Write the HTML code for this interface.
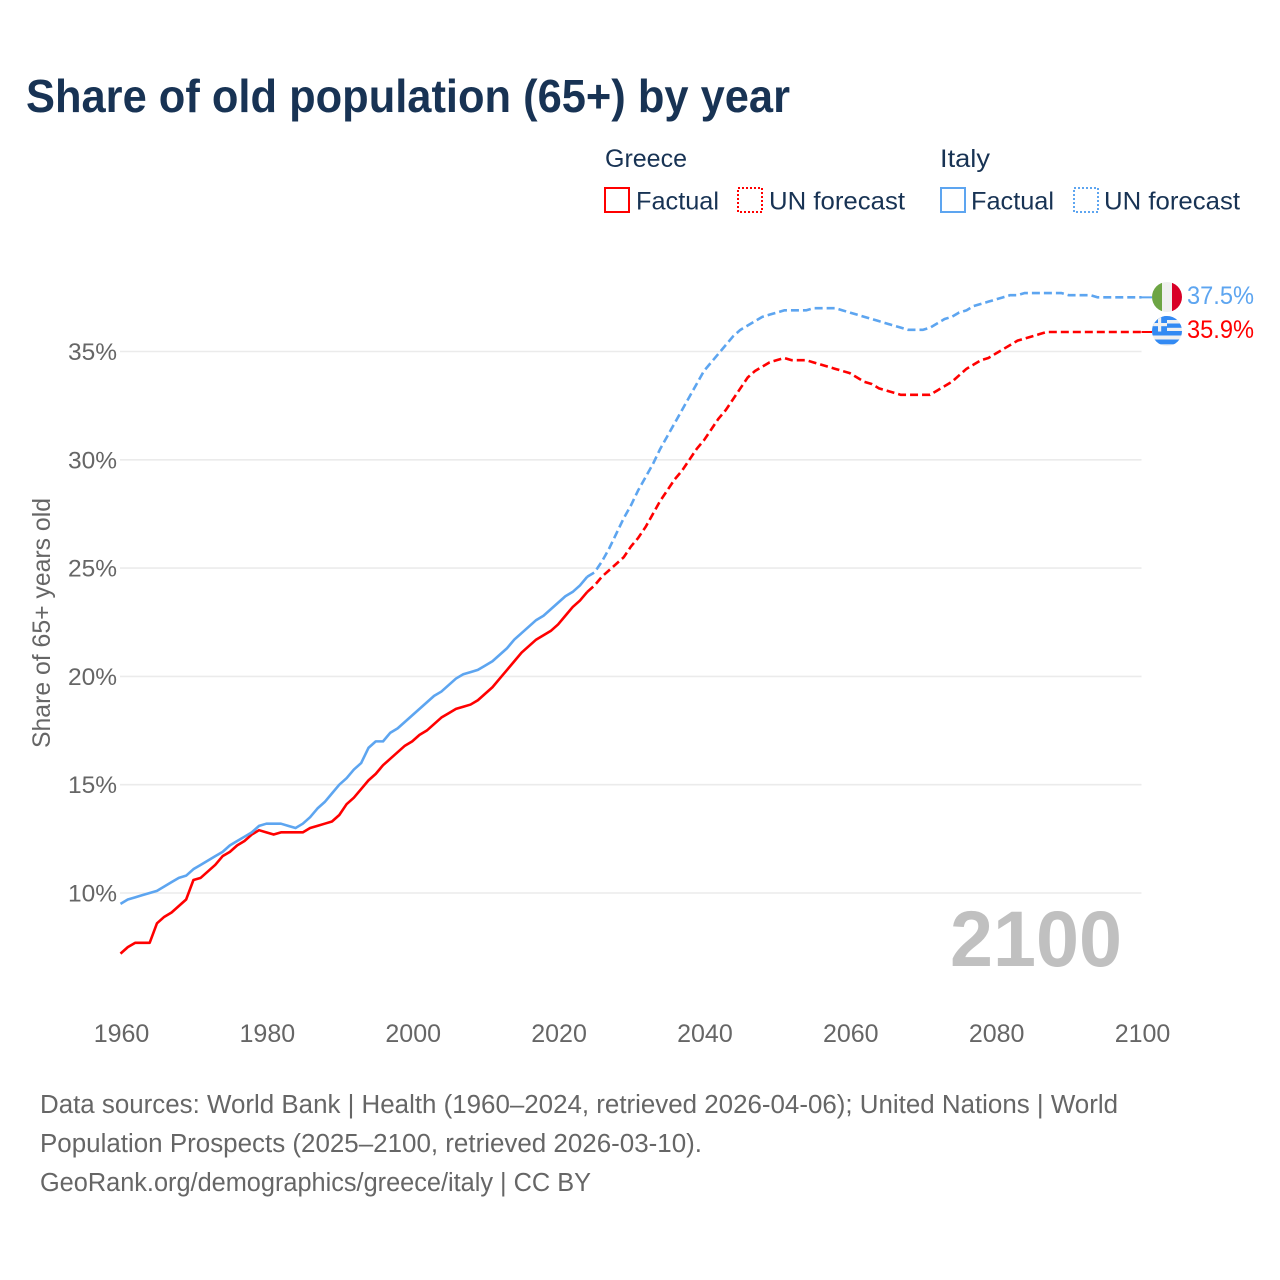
<!DOCTYPE html>
<html lang="en">
<head>
<meta charset="utf-8">
<title>Share of old population (65+) by year</title>
<style>
html,body{margin:0;padding:0;background:#fff;}
svg{display:block;font-family:"Liberation Sans",sans-serif;}
</style>
</head>
<body>
<svg id="chart" width="1280" height="1280" viewBox="0 0 1280 1280" xmlns="http://www.w3.org/2000/svg">
  <rect width="1280" height="1280" fill="#fff"/>
  <text x="26" y="112" font-size="46" font-weight="700" fill="#183354" textLength="764" lengthAdjust="spacingAndGlyphs">Share of old population (65+) by year</text>

  <g font-size="25" fill="#183354">
    <text x="605" y="167" textLength="82" lengthAdjust="spacingAndGlyphs">Greece</text>
    <text x="940" y="167" textLength="50" lengthAdjust="spacingAndGlyphs">Italy</text>
    <rect x="605" y="188" width="24" height="24" fill="none" stroke="#ff0000" stroke-width="2"/>
    <text x="636" y="209.5" textLength="83" lengthAdjust="spacingAndGlyphs">Factual</text>
    <rect x="738" y="188" width="24" height="24" fill="none" stroke="#ff0000" stroke-width="2" stroke-dasharray="2,2"/>
    <text x="769" y="209.5" textLength="136" lengthAdjust="spacingAndGlyphs">UN forecast</text>
    <rect x="941" y="188" width="24" height="24" fill="none" stroke="#5da5f0" stroke-width="2"/>
    <text x="971" y="209.5" textLength="83" lengthAdjust="spacingAndGlyphs">Factual</text>
    <rect x="1074" y="188" width="24" height="24" fill="none" stroke="#5da5f0" stroke-width="2" stroke-dasharray="2,2"/>
    <text x="1104" y="209.5" textLength="136" lengthAdjust="spacingAndGlyphs">UN forecast</text>
  </g>

  <g id="grid"></g>
  <g id="yticks"></g>
  <g id="xticks"></g>
  <text transform="translate(50,623) rotate(-90)" text-anchor="middle" font-size="25" fill="#666" textLength="250" lengthAdjust="spacingAndGlyphs">Share of 65+ years old</text>

  <text x="950" y="966" font-size="79" font-weight="700" fill="#c0c0c0" textLength="172" lengthAdjust="spacingAndGlyphs">2100</text>

  <g id="series"></g>

  <defs>
    <clipPath id="clip-it"><circle cx="1167" cy="297" r="15"/></clipPath>
    <clipPath id="clip-gr"><circle cx="1167" cy="331" r="15"/></clipPath>
  </defs>
  <g clip-path="url(#clip-it)">
    <rect x="1152" y="282" width="10" height="30" fill="#6da544"/>
    <rect x="1162" y="282" width="10" height="30" fill="#f0f0f0"/>
    <rect x="1172" y="282" width="10" height="30" fill="#d80027"/>
  </g>
  <g clip-path="url(#clip-gr)">
    <rect x="1152" y="316" width="30" height="30" fill="#f0f0f0"/>
    <rect x="1152" y="316" width="30" height="4" fill="#338af3"/>
    <rect x="1152" y="323.5" width="30" height="4.3" fill="#338af3"/>
    <rect x="1152" y="331" width="30" height="4.5" fill="#338af3"/>
    <rect x="1152" y="339.5" width="30" height="4.8" fill="#338af3"/>
    <rect x="1152" y="316" width="15" height="15.5" fill="#338af3"/>
    <rect x="1152" y="323" width="15" height="3.2" fill="#f0f0f0"/>
    <rect x="1158" y="316" width="3.2" height="15.5" fill="#f0f0f0"/>
  </g>
  <text id="label-it" x="1187" y="304" font-size="25" fill="#5da5f0" textLength="67" lengthAdjust="spacingAndGlyphs"></text>
  <text id="label-gr" x="1187" y="338" font-size="25" fill="#ff0000" textLength="67" lengthAdjust="spacingAndGlyphs"></text>

  <g font-size="25.5" fill="#666">
    <text x="40" y="1113" textLength="1078" lengthAdjust="spacingAndGlyphs">Data sources: World Bank | Health (1960–2024, retrieved 2026-04-06); United Nations | World</text>
    <text x="40" y="1152" textLength="662" lengthAdjust="spacingAndGlyphs">Population Prospects (2025–2100, retrieved 2026-03-10).</text>
    <text x="40" y="1191" textLength="551" lengthAdjust="spacingAndGlyphs">GeoRank.org/demographics/greece/italy | CC BY</text>
  </g>
</svg>
<script>
var xTickYears = [1960, 1980, 2000, 2020, 2040, 2060, 2080, 2100];
var yTickValues = [10, 15, 20, 25, 30, 35];
var factualStartYear = 1960;
var forecastStartYear = 2024;

var greeceFactual = [7.2,7.5,7.7,7.7,7.7,8.6,8.9,9.1,9.4,9.7,10.6,10.7,11.0,11.3,11.7,11.9,12.2,12.4,12.7,12.9,12.8,12.7,12.8,12.8,12.8,12.8,13.0,13.1,13.2,13.3,13.6,14.1,14.4,14.8,15.2,15.5,15.9,16.2,16.5,16.8,17.0,17.3,17.5,17.8,18.1,18.3,18.5,18.6,18.7,18.9,19.2,19.5,19.9,20.3,20.7,21.1,21.4,21.7,21.9,22.1,22.4,22.8,23.2,23.5,23.9];
var greeceForecast = [23.9,24.2,24.6,24.9,25.2,25.5,26.0,26.4,26.9,27.5,28.1,28.6,29.1,29.5,30.0,30.5,30.9,31.4,31.9,32.3,32.8,33.3,33.8,34.1,34.3,34.5,34.6,34.7,34.6,34.6,34.6,34.5,34.4,34.3,34.2,34.1,34.0,33.8,33.6,33.5,33.3,33.2,33.1,33.0,33.0,33.0,33.0,33.0,33.2,33.4,33.6,33.9,34.2,34.4,34.6,34.7,34.9,35.1,35.3,35.5,35.6,35.7,35.8,35.9,35.9,35.9,35.9,35.9,35.9,35.9,35.9,35.9,35.9,35.9,35.9,35.9,35.9];
var italyFactual = [9.5,9.7,9.8,9.9,10.0,10.1,10.3,10.5,10.7,10.8,11.1,11.3,11.5,11.7,11.9,12.2,12.4,12.6,12.8,13.1,13.2,13.2,13.2,13.1,13.0,13.2,13.5,13.9,14.2,14.6,15.0,15.3,15.7,16.0,16.7,17.0,17.0,17.4,17.6,17.9,18.2,18.5,18.8,19.1,19.3,19.6,19.9,20.1,20.2,20.3,20.5,20.7,21.0,21.3,21.7,22.0,22.3,22.6,22.8,23.1,23.4,23.7,23.9,24.2,24.6];
var italyForecast = [24.6,24.8,25.3,25.9,26.6,27.3,27.9,28.6,29.2,29.8,30.5,31.1,31.7,32.3,32.9,33.5,34.1,34.5,34.9,35.3,35.7,36.0,36.2,36.4,36.6,36.7,36.8,36.9,36.9,36.9,36.9,37.0,37.0,37.0,37.0,36.9,36.8,36.7,36.6,36.5,36.4,36.3,36.2,36.1,36.0,36.0,36.0,36.1,36.3,36.5,36.6,36.8,36.9,37.1,37.2,37.3,37.4,37.5,37.6,37.6,37.7,37.7,37.7,37.7,37.7,37.7,37.6,37.6,37.6,37.6,37.5,37.5,37.5,37.5,37.5,37.5,37.5];

var SVG_NS = 'http://www.w3.org/2000/svg';
function xScale(year) { return 120.5 + (year - 1960) * (1141.5 - 120.5) / 140; }
function yScale(value) { return 893 - (value - 10) * 21.66; }

function pathFrom(values, startYear) {
  var d = '';
  for (var i = 0; i < values.length; i++) {
    d += (i ? 'L' : 'M') + xScale(startYear + i).toFixed(2) + ' ' + yScale(values[i]).toFixed(2);
  }
  return d;
}

var gridGroup = document.getElementById('grid');
var yTickGroup = document.getElementById('yticks');
yTickValues.forEach(function (v) {
  var line = document.createElementNS(SVG_NS, 'line');
  
  
  line.setAttribute('x1', 120);
  line.setAttribute('x2', 1141.5);
  line.setAttribute('y1', yScale(v));
  line.setAttribute('y2', yScale(v));
  line.setAttribute('stroke', '#ebebeb');
  line.setAttribute('stroke-width', '1.6');
  gridGroup.appendChild(line);
  var label = document.createElementNS(SVG_NS, 'text');
  
  
  label.setAttribute('x', 117);
  label.setAttribute('y', yScale(v) + 8.5);
  label.setAttribute('text-anchor', 'end');
  label.setAttribute('font-size', '24.5');
  label.setAttribute('fill', '#666');
  label.textContent = v + '%';
  yTickGroup.appendChild(label);
});

var xTickGroup = document.getElementById('xticks');
xTickYears.forEach(function (y) {
  var label = document.createElementNS(SVG_NS, 'text');
  
  
  label.setAttribute('x', xScale(y) + 1);
  label.setAttribute('y', 1042);
  label.setAttribute('text-anchor', 'middle');
  label.setAttribute('font-size', '25');
  label.setAttribute('fill', '#666');
  label.textContent = y;
  xTickGroup.appendChild(label);
});

var seriesGroup = document.getElementById('series');
function addLine(values, startYear, color, dashed, name) {
  var p = document.createElementNS(SVG_NS, 'path');
  
  
  p.setAttribute('d', pathFrom(values, startYear));
  p.setAttribute('fill', 'none');
  p.setAttribute('stroke', color);
  p.setAttribute('stroke-width', '2.6');
  p.setAttribute('stroke-linejoin', 'round');
  if (dashed) { p.setAttribute('stroke-dasharray', '8,4'); }
  seriesGroup.appendChild(p);
}
function addConnector(lastValue, color, name) {
  var c = document.createElementNS(SVG_NS, 'line');
  
  
  c.setAttribute('x1', xScale(2100));
  c.setAttribute('x2', 1152);
  c.setAttribute('y1', yScale(lastValue));
  c.setAttribute('y2', yScale(lastValue));
  c.setAttribute('stroke', color);
  c.setAttribute('stroke-width', '2');
  seriesGroup.appendChild(c);
}
addLine(greeceFactual, factualStartYear, '#ff0000', false, 'greece-factual-line');
addLine(greeceForecast, forecastStartYear, '#ff0000', true, 'greece-forecast-line');
addLine(italyFactual, factualStartYear, '#5da5f0', false, 'italy-factual-line');
addLine(italyForecast, forecastStartYear, '#5da5f0', true, 'italy-forecast-line');
addConnector(greeceForecast[greeceForecast.length - 1], '#ff0000', 'greece-label-connector');
addConnector(italyForecast[italyForecast.length - 1], '#5da5f0', 'italy-label-connector');

document.getElementById('label-it').textContent = italyForecast[italyForecast.length - 1].toFixed(1) + '%';
document.getElementById('label-gr').textContent = greeceForecast[greeceForecast.length - 1].toFixed(1) + '%';
</script>
</body>
</html>
